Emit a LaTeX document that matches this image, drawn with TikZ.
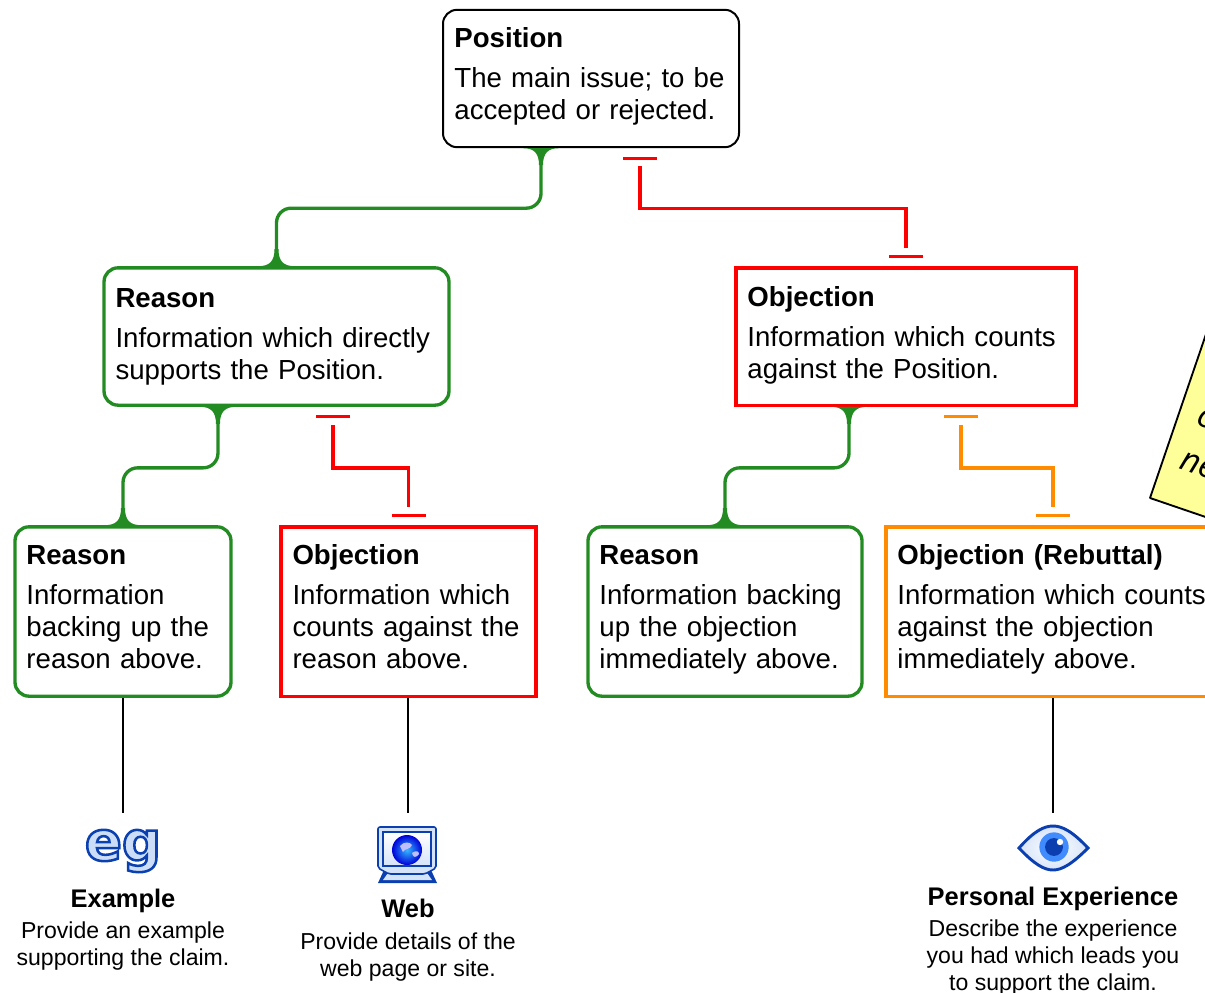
\documentclass[tikz,border=0pt]{standalone}
\usepackage{fontspec}
\setmainfont{Liberation Sans}
\newfontfamily\notefont{Open Sans}
\newfontfamily\iconfont{DejaVu Sans}
\usetikzlibrary{positioning, calc}
\definecolor{reasongreen}{HTML}{228B22}
\definecolor{rebutorange}{HTML}{FF8C00}
\definecolor{iconblue}{HTML}{0B3FB0}
\definecolor{iconpale}{HTML}{D5E3F8}
\definecolor{notefill}{HTML}{FFFF99}
\tikzset{
x=0.75pt, y=-0.75pt, % one unit is one pixel of the sheet
box/.style={align=left, anchor=center, inner xsep=8.6pt, inner ysep=0pt, font=\fontsize{20.7pt}{24pt}\selectfont},
lift/.style={execute at end node={\rule[-#1]{0pt}{0pt}}}, % raises the text in its box
positionbox/.style={box, draw=black, line width=1.5pt, rounded corners=10.5pt},
reasonbox/.style={box, draw=reasongreen, line width=2.5pt, rounded corners=10.5pt},
objectionbox/.style={box, draw=red, line width=2.5pt},
rebuttalbox/.style={box, draw=rebutorange, line width=2.5pt},
reasonline/.style={draw=reasongreen, line width=2.5pt, rounded corners=11pt},
objectionline/.style={line width=2.5pt, shorten <=13.5pt, shorten >=13.5pt},
evidenceline/.style={draw=black, line width=0.9pt},
evidencetext/.style={align=center, font=\fontsize{17.3pt}{20.25pt}\selectfont},
evidencetitle/.style={font=\fontsize{19.1pt}{21pt}\selectfont\bfseries, text height=14pt, text depth=4pt, inner ysep=0pt},
flare/.pic={\fill[reasongreen] (-18,0) .. controls (-7,0) and (-2,5) .. (-2,17) -- (2,17) .. controls (2,5) and (7,0) .. (18,0) -- cycle;},
stopbar/.pic={\draw[line width=2.4pt] (-17,10) -- (17,10);},
}
\begin{document}
\begin{tikzpicture}
\useasboundingbox (0,0) rectangle (1205,992);
% the note behind the right margin
\draw[fill=notefill, line width=1.4pt, line join=round] (1150,498) coordinate (notecorner) -- (1231,261) -- (1400,318) -- (1311,553) -- cycle;
\node[rotate=-19, font=\notefont\itshape\fontsize{25pt}{25pt}\selectfont, anchor=base west, inner sep=0pt] (notec) at (1195,424) {c};
\node[rotate=-19, font=\notefont\itshape\fontsize{25pt}{25pt}\selectfont, anchor=base west, inner sep=0pt] (notene) at (1178,468) {ne};
% boxes
\node[positionbox, lift=7.5pt, text width=204.8pt, minimum height=103pt] (position) at (591,78.5) {\textbf{Position}\\[6pt]The main issue; to be\\accepted or rejected.};
\node[reasonbox, lift=4pt, text width=241.5pt, minimum height=103pt] (reason) at (276.5,336.5) {\textbf{Reason}\\[6pt]Information which directly\\supports the Position.};
\node[objectionbox, lift=5.5pt, text width=237.8pt, minimum height=103pt] (objection) at (906,336.5) {\textbf{Objection}\\[6pt]Information which counts\\against the Position.};
\node[reasonbox, lift=7.5pt, text width=144.8pt, minimum height=127pt] (reasontwo) at (123,611.5) {\textbf{Reason}\\[6pt]Information\\backing up the\\reason above.};
\node[objectionbox, lift=7.5pt, text width=174pt, minimum height=127pt] (objectiontwo) at (408.5,611.5) {\textbf{Objection}\\[6pt]Information which\\counts against the\\reason above.};
\node[reasonbox, lift=7.5pt, text width=188.3pt, minimum height=127pt] (reasonthree) at (725,611.5) {\textbf{Reason}\\[6pt]Information backing\\up the objection\\immediately above.};
\node[rebuttalbox, lift=7.5pt, text width=233.3pt, minimum height=127pt] (rebuttal) at (1053,611.5) {\textbf{Objection (Rebuttal)}\\[6pt]Information which counts\\against the objection\\immediately above.};
% supporting links
\draw[reasonline] ([xshift=-37.5pt]position.south) -- ++(0,60) -| (reason.north);
\draw[reasonline] ([xshift=-43.9pt]reason.south) -- ++(0,61) -| (reasontwo.north);
\draw[reasonline] ([xshift=-42.75pt]objection.south) -- ++(0,61) -| (reasonthree.north);
\pic at ([xshift=-37.5pt]position.south) {flare};
\pic[yscale=-1] at (reason.north) {flare};
\pic at ([xshift=-43.9pt]reason.south) {flare};
\pic[yscale=-1] at (reasontwo.north) {flare};
\pic at ([xshift=-42.75pt]objection.south) {flare};
\pic[yscale=-1] at (reasonthree.north) {flare};
% opposing links
\draw[objectionline, draw=red] ([xshift=36.75pt]position.south) -- ++(0,60) -| (objection.north);
\draw[objectionline, draw=red] ([xshift=42.4pt]reason.south) -- ++(0,61) -| (objectiontwo.north);
\draw[objectionline, draw=rebutorange] ([xshift=41.25pt]objection.south) -- ++(0,61) -| (rebuttal.north);
\pic[color=red] at ([xshift=36.75pt]position.south) {stopbar};
\pic[color=red, yscale=-1] at (objection.north) {stopbar};
\pic[color=red] at ([xshift=42.4pt]reason.south) {stopbar};
\pic[color=red, yscale=-1] at (objectiontwo.north) {stopbar};
\pic[color=rebutorange] at ([xshift=41.25pt]objection.south) {stopbar};
\pic[color=rebutorange, yscale=-1] at (rebuttal.north) {stopbar};
% evidence under the lower boxes
\coordinate (egtop) at (123,813);
\coordinate (webtop) at (408,813);
\coordinate (eyetop) at (1053,813);
\draw[evidenceline] (reasontwo.south) -- (egtop);
\draw[evidenceline] (webtop |- objectiontwo.south) -- (webtop);
\draw[evidenceline] (rebuttal.south) -- (eyetop);
% eg
\node[inner sep=0pt, font=\iconfont\bfseries\fontsize{41pt}{41pt}\selectfont] (egicon) at (123,851) {\special{pdf:code q 2 Tr 1.9 w 0.04 0.25 0.69 RG 0.8 0.87 0.97 rg}eg\special{pdf:code Q}};
\node[evidencetitle] (egtitle) at (123,900.5) {Example};
\node[evidencetext, below=3.25pt of egtitle] (egtext) {Provide an example\\supporting the claim.};
% monitor
\node[inner sep=0pt, minimum width=45pt, minimum height=43pt] (webicon) at (407,854) {};
\fill[iconblue] (384,870) -- (431,870) -- (437,883) -- (378,883) -- cycle;
\fill[iconpale] (388,873) -- (427,873) -- (432,880) -- (383,880) -- cycle;
\draw[draw=iconblue, fill=iconpale, line width=1.2pt, rounded corners=1.5pt] (378,827) -- (436,827) -- (436,868) -- (425,874) -- (389,874) -- (378,868) -- cycle;
\draw[draw=iconblue, top color=white, bottom color=iconpale, line width=1pt] (383,832) rectangle (431,866);
\shade[inner color=blue!35!cyan!80!white, outer color=blue!85!black] (407,850) circle (11.25pt);
\fill[blue!25!white] (400,846) .. controls (404,841) and (410,842) .. (412,845) .. controls (410,850) and (405,848) .. (403,852) -- cycle;
\fill[blue!25!white] (412,853) .. controls (416,850) and (419,851) .. (419,854) .. controls (416,858) and (413,858) .. cycle;
\node[evidencetitle] (webtitle) at (408,911) {Web};
\node[evidencetext, below=3.25pt of webtitle] (webtext) {Provide details of the\\web page or site.};
% eye
\node[inner sep=0pt, minimum width=53pt, minimum height=34pt] (eyeicon) at (1053,848) {};
\draw[draw=iconblue, line width=2.2pt, inner color=white, outer color=iconpale] (1019,848) .. controls (1034,831) and (1044,826) .. (1053,826) .. controls (1062,826) and (1072,831) .. (1088,848) .. controls (1072,864) and (1062,870) .. (1053,870) .. controls (1044,870) and (1034,864) .. cycle;
\fill[blue!60!cyan!75!white] (1054,847) circle (11pt);
\fill[iconblue] (1054,847) circle (6.7pt);
\fill[white] (1060,842) circle (2.4pt);
\node[evidencetitle] (eyetitle) at (1053,898.5) {Personal Experience};
\node[evidencetext, below=3.25pt of eyetitle] (eyetext) {Describe the experience\\you had which leads you\\to support the claim.};
\end{tikzpicture}
\end{document}
